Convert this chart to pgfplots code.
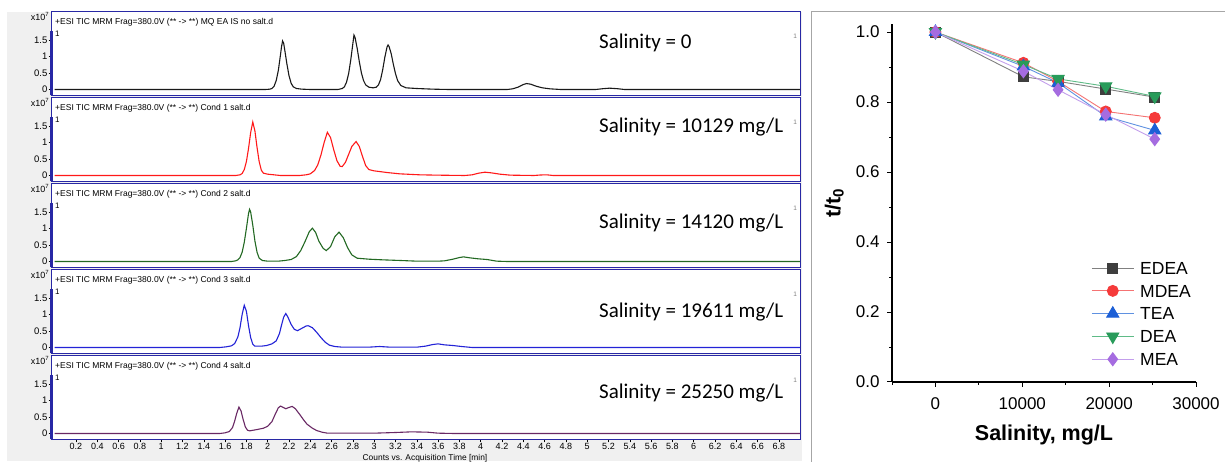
\documentclass[border=0pt]{standalone}
\usepackage{graphicx}
\usepackage{pgfplots}
\pgfplotsset{compat=1.18}
\usepackage{fontspec}
\setmainfont{Liberation Sans}
\newfontfamily\calibri{Carlito}

\definecolor{frameblue}{RGB}{40,40,165}
\definecolor{bggray}{RGB}{240,240,240}
\definecolor{tracered}{RGB}{255,25,25}
\definecolor{tracegreen}{RGB}{35,105,35}
\definecolor{traceblue}{RGB}{35,35,215}
\definecolor{tracepurple}{RGB}{105,40,100}
\definecolor{edeamark}{RGB}{62,62,62}
\definecolor{edealine}{RGB}{128,128,128}
\definecolor{mdeamark}{RGB}{245,58,58}
\definecolor{mdealine}{RGB}{245,115,115}
\definecolor{teamark}{RGB}{28,95,214}
\definecolor{tealine}{RGB}{95,145,225}
\definecolor{deamark}{RGB}{40,155,90}
\definecolor{dealine}{RGB}{95,187,135}
\definecolor{meamark}{RGB}{165,108,224}
\definecolor{mealine}{RGB}{195,158,236}

\pgfplotsset{
  chrom/.style={
    scale only axis, width=748.7pt, height=84.15pt,
    xmin=-0.03, xmax=7, ymin=-0.18, ymax=2.37,
    clip=false,
    axis background/.style={fill=white},
    axis line style={frameblue, line width=1.1pt},
    ytick={0,0.5,1,1.5}, yticklabels={0,0.5,1,1.5},
    ytick pos=left, xtick pos=bottom,
    tick align=outside, major tick length=3pt,
    tick style={black, line width=0.5pt},
    yticklabel style={font=\fontsize{9.5}{10}\selectfont, inner sep=1pt},
    xtick=\empty,
    every axis plot/.append style={line width=1.1pt, no marks},
  },
  amine/.style={line width=0.9pt, mark options={solid}},
}

% header, its printed width, salinity text, height of the salinity text (data units)
\newcommand{\panelnotes}[4]{%
  \draw[frameblue, line width=2.6pt] (rel axis cs:0,0) -- (rel axis cs:0,0.77);
  \node[anchor=west, font=\fontsize{8.5}{9}\selectfont, inner sep=0pt]
    at ([xshift=3.5pt,yshift=-11pt]rel axis cs:0,1) {\resizebox{#2}{!}{#1}};
  \node[anchor=east, font=\fontsize{9}{10}\selectfont, inner sep=0pt]
    at ([xshift=-2pt,yshift=-5pt]rel axis cs:0,1) {x10\textsuperscript{7}};
  \node[anchor=west, font=\fontsize{8}{9}\selectfont, inner sep=0pt]
    at ([xshift=3.5pt,yshift=-22pt]rel axis cs:0,1) {1};
  \node[anchor=east, font=\fontsize{6.5}{7}\selectfont, text=gray, inner sep=0pt]
    at ([xshift=-3pt,yshift=-25pt]rel axis cs:1,1) {1};
  \node[anchor=west, font=\calibri\fontsize{21}{21}\selectfont, inner sep=0pt]
    at (axis cs:5.11,#4) {#3};
}

\begin{document}
\begin{tikzpicture}[x=1pt,y=1pt]
\useasboundingbox (0,0) rectangle (1225,462);
\fill[white] (0,0) rectangle (1225,462);
\fill[bggray] (7,1) rectangle (802,450);
\draw[gray!70, line width=0.8pt] (811,0) -- (811,450.3) -- (1225,450.3);

% ---------------- chromatograms ----------------
\begin{axis}[chrom, at={(51.5pt,366.56pt)}, anchor=south west]
\addplot[black!90] coordinates {(0,0) (1.98,0) (2.02,0.01) (2.04,0.03) (2.06,0.1) (2.08,0.27) (2.10,0.58) (2.12,1.05) (2.13,1.30) (2.14,1.47) (2.15,1.40) (2.16,1.20) (2.18,0.78) (2.20,0.42) (2.22,0.19) (2.24,0.08) (2.27,0.03) (2.32,0.01) (2.40,0) (2.66,0) (2.70,0.03) (2.72,0.08) (2.74,0.22) (2.76,0.48) (2.78,0.90) (2.80,1.40) (2.81,1.65) (2.82,1.58) (2.84,1.25) (2.86,0.85) (2.88,0.50) (2.90,0.27) (2.92,0.14) (2.95,0.07) (2.99,0.05) (3.02,0.07) (3.04,0.14) (3.06,0.30) (3.08,0.60) (3.10,0.98) (3.12,1.28) (3.13,1.35) (3.14,1.30) (3.16,1.08) (3.18,0.76) (3.20,0.48) (3.22,0.27) (3.25,0.12) (3.30,0.05) (3.40,0.03) (3.55,0.01) (3.70,0) (4.25,0) (4.30,0.02) (4.35,0.07) (4.40,0.15) (4.43,0.18) (4.47,0.16) (4.52,0.10) (4.58,0.05) (4.65,0.02) (4.75,0) (5.08,0) (5.15,0.025) (5.21,0.04) (5.28,0.025) (5.35,0) (7,0)};
\panelnotes{+ESI TIC MRM Frag=380.0V (** -> **) MQ EA IS no salt.d}{218pt}{Salinity = 0}{1.41}
\end{axis}

\begin{axis}[chrom, at={(51.5pt,280.56pt)}, anchor=south west]
\addplot[tracered] coordinates {(0,0) (1.70,0) (1.74,0.02) (1.76,0.06) (1.78,0.18) (1.80,0.42) (1.82,0.82) (1.84,1.30) (1.86,1.62) (1.88,1.35) (1.90,0.85) (1.92,0.42) (1.94,0.16) (1.96,0.07) (2.00,0.04) (2.06,0.02) (2.12,0) (2.30,0) (2.36,0.02) (2.40,0.05) (2.44,0.15) (2.47,0.32) (2.50,0.62) (2.53,1.00) (2.56,1.31) (2.59,1.15) (2.62,0.78) (2.65,0.45) (2.68,0.28) (2.70,0.27) (2.73,0.40) (2.76,0.64) (2.79,0.88) (2.83,1.03) (2.86,0.88) (2.89,0.58) (2.92,0.30) (2.95,0.18) (3.00,0.14) (3.05,0.12) (3.12,0.09) (3.24,0.05) (3.43,0.02) (3.60,0.01) (3.85,0) (3.92,0.02) (3.98,0.07) (4.04,0.10) (4.10,0.08) (4.18,0.04) (4.28,0.01) (4.50,0) (4.56,0.015) (4.62,0.02) (4.68,0) (7,0)};
\panelnotes{+ESI TIC MRM Frag=380.0V (** -> **) Cond 1 salt.d}{195.5pt}{Salinity = 10129 mg/L}{1.47}
\end{axis}

\begin{axis}[chrom, at={(51.5pt,194.56pt)}, anchor=south west]
\addplot[tracegreen] coordinates {(0,0) (1.66,0) (1.70,0.02) (1.72,0.05) (1.74,0.12) (1.76,0.28) (1.78,0.58) (1.80,1.00) (1.82,1.45) (1.83,1.58) (1.84,1.50) (1.86,1.10) (1.88,0.62) (1.90,0.28) (1.92,0.10) (1.95,0.03) (2.00,0.01) (2.10,0.01) (2.16,0.03) (2.22,0.06) (2.27,0.15) (2.31,0.33) (2.35,0.60) (2.39,0.90) (2.42,1.01) (2.45,0.88) (2.48,0.62) (2.52,0.40) (2.55,0.33) (2.59,0.45) (2.63,0.75) (2.67,0.89) (2.71,0.72) (2.75,0.42) (2.79,0.20) (2.84,0.10) (2.95,0.07) (3.08,0.05) (3.25,0.03) (3.40,0.01) (3.60,0.01) (3.66,0.02) (3.74,0.07) (3.80,0.12) (3.84,0.14) (3.90,0.11) (3.98,0.08) (4.06,0.06) (4.15,0.01) (4.25,0) (7,0)};
\panelnotes{+ESI TIC MRM Frag=380.0V (** -> **) Cond 2 salt.d}{195.5pt}{Salinity = 14120 mg/L}{1.18}
\end{axis}

\begin{axis}[chrom, at={(51.5pt,108.56pt)}, anchor=south west]
\addplot[traceblue] coordinates {(0,0) (1.55,0) (1.61,0.02) (1.66,0.05) (1.69,0.12) (1.72,0.32) (1.74,0.60) (1.76,1.00) (1.78,1.28) (1.80,1.10) (1.82,0.66) (1.84,0.30) (1.86,0.10) (1.88,0.04) (1.94,0.04) (1.99,0.06) (2.04,0.11) (2.08,0.20) (2.11,0.42) (2.13,0.68) (2.15,0.92) (2.17,1.03) (2.19,0.92) (2.22,0.70) (2.25,0.55) (2.28,0.51) (2.32,0.58) (2.36,0.65) (2.38,0.66) (2.42,0.60) (2.46,0.46) (2.50,0.30) (2.54,0.16) (2.58,0.07) (2.63,0.03) (2.70,0.01) (2.95,0.01) (3.05,0.03) (3.15,0.01) (3.40,0.01) (3.48,0.04) (3.55,0.09) (3.60,0.11) (3.66,0.08) (3.74,0.06) (3.82,0.03) (3.92,0) (7,0)};
\panelnotes{+ESI TIC MRM Frag=380.0V (** -> **) Cond 3 salt.d}{195.5pt}{Salinity = 19611 mg/L}{1.08}
\end{axis}

\begin{axis}[chrom, at={(51.5pt,22.56pt)}, anchor=south west,
  xtick={0.2,0.4,0.6,0.8,1,1.2,1.4,1.6,1.8,2,2.2,2.4,2.6,2.8,3,3.2,3.4,3.6,3.8,4,4.2,4.4,4.6,4.8,5,5.2,5.4,5.6,5.8,6,6.2,6.4,6.6,6.8},
  xticklabels={0.2,0.4,0.6,0.8,1,1.2,1.4,1.6,1.8,2,2.2,2.4,2.6,2.8,3,3.2,3.4,3.6,3.8,4,4.2,4.4,4.6,4.8,5,5.2,5.4,5.6,5.8,6,6.2,6.4,6.6,6.8},
  xticklabel style={font=\fontsize{9}{9}\selectfont, inner sep=0.5pt}]
\addplot[tracepurple] coordinates {(0,0) (1.55,0) (1.60,0.02) (1.64,0.06) (1.67,0.18) (1.69,0.38) (1.71,0.62) (1.73,0.80) (1.75,0.68) (1.77,0.42) (1.79,0.20) (1.81,0.10) (1.83,0.08) (1.90,0.12) (1.96,0.16) (2.00,0.22) (2.04,0.36) (2.07,0.58) (2.10,0.78) (2.12,0.83) (2.14,0.80) (2.17,0.75) (2.20,0.79) (2.23,0.82) (2.26,0.75) (2.30,0.58) (2.34,0.40) (2.37,0.28) (2.42,0.16) (2.46,0.09) (2.51,0.04) (2.56,0.01) (2.70,0.01) (3.00,0.01) (3.20,0.03) (3.35,0.05) (3.50,0.04) (3.60,0.01) (3.75,0) (7,0)};
\panelnotes{+ESI TIC MRM Frag=380.0V (** -> **) Cond 4 salt.d}{195.5pt}{Salinity = 25250 mg/L}{1.23}
\end{axis}
\node[font=\fontsize{8.4}{9}\selectfont, inner sep=0pt] at (425,4) {Counts vs. Acquisition Time [min]};

% ---------------- retention ratio vs salinity ----------------
\begin{axis}[
  at={(892pt,80pt)}, anchor=south west, scale only axis,
  width=304pt, height=358pt,
  xmin=-5000, xmax=30000, ymin=0, ymax=1.023,
  axis x line*=bottom, axis y line*=left,
  axis line style={line width=1.2pt},
  xtick={0,10000,20000,30000}, minor xtick={-5000,5000,15000,25000},
  ytick={0,0.2,0.4,0.6,0.8,1.0}, minor ytick={0.1,0.3,0.5,0.7,0.9},
  tick align=outside, major tick length=5pt, minor tick length=3pt,
  tick style={black, line width=1pt},
  scaled x ticks=false,
  /pgf/number format/assume math mode=true,
  ticklabel style={font=\fontsize{17}{17}\selectfont},
  xticklabel style={/pgf/number format/set thousands separator={}, yshift=-7pt},
  yticklabel style={/pgf/number format/fixed, /pgf/number format/fixed zerofill, /pgf/number format/precision=1, xshift=-4pt},
  xlabel={\bfseries Salinity, mg/L},
  ylabel={\bfseries t/t\textsubscript{0}},
  label style={font=\fontsize{21.5}{22}\selectfont},
  xlabel style={at={(axis description cs:0.5,-0.148)}, anchor=center},
  ylabel style={at={(axis description cs:-0.19,0.5)}, anchor=center},
  legend cell align=left,
  legend image code/.code={\draw[mark repeat=2,mark phase=2] plot coordinates {(0pt,0pt) (21pt,0pt) (42pt,0pt)};},
  legend style={draw=none, fill=none, at={(rel axis cs:0.655,0.339)}, anchor=north west,
    font=\fontsize{17.5}{18}\selectfont, inner sep=0pt, row sep=8.3pt, column sep=5pt,
    nodes={inner sep=1pt, text height=12.5pt, text depth=0pt}},
]
\addplot[amine, color=edealine, mark=square*, mark size=5pt, mark options={fill=edeamark, draw=edeamark}]
  coordinates {(0,1.0) (10129,0.872) (14120,0.859) (19611,0.837) (25250,0.814)};
\addlegendentry{EDEA}
\addplot[amine, color=mdealine, mark=*, mark size=5.5pt, mark options={fill=mdeamark, draw=mdeamark}]
  coordinates {(0,1.0) (10129,0.912) (14120,0.859) (19611,0.773) (25250,0.755)};
\addlegendentry{MDEA}
\addplot[amine, color=tealine, mark=triangle*, mark size=7pt, mark options={fill=teamark, draw=teamark}]
  coordinates {(0,1.0) (10129,0.902) (14120,0.855) (19611,0.759) (25250,0.719)};
\addlegendentry{TEA}
\addplot[amine, color=dealine, mark=triangle*, mark size=7pt, mark options={fill=deamark, draw=deamark, rotate=180}]
  coordinates {(0,1.0) (10129,0.907) (14120,0.866) (19611,0.845) (25250,0.816)};
\addlegendentry{DEA}
\addplot[amine, color=mealine, mark=diamond*, mark size=6.5pt, mark options={fill=meamark, draw=meamark}]
  coordinates {(0,1.0) (10129,0.888) (14120,0.835) (19611,0.764) (25250,0.694)};
\addlegendentry{MEA}
\end{axis}
\end{tikzpicture}
\end{document}
